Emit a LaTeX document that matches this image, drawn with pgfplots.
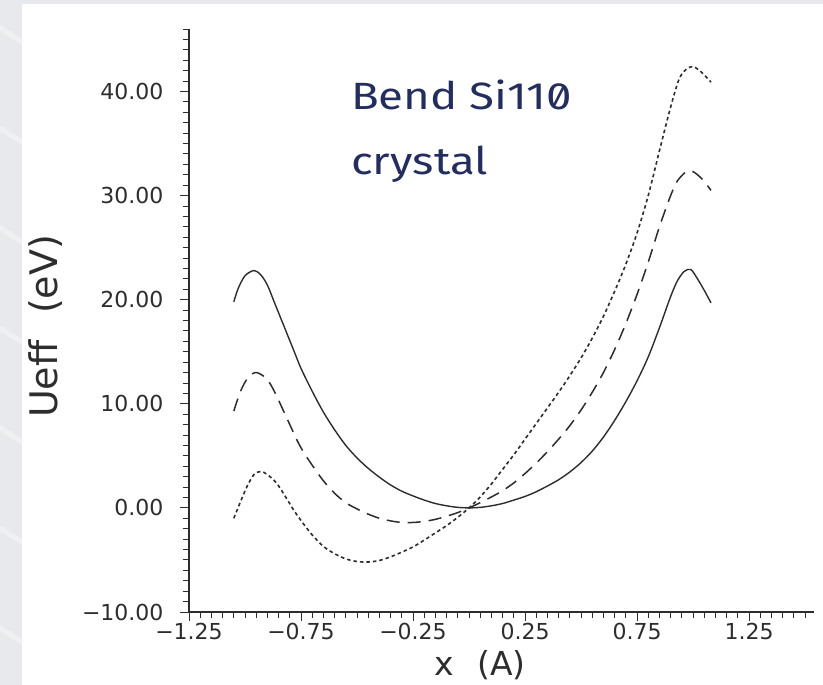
\documentclass[border=0pt]{standalone}
\usepackage{pgfplots}
\pgfplotsset{compat=1.18}
\usepackage{fontspec}
\setmainfont{DejaVu Sans}
\newfontfamily\titlefont[Numbers=SlashedZero, FakeStretch=1.2]{Fira Sans}
\definecolor{navy}{RGB}{36,46,94}
\definecolor{bggray}{RGB}{232,233,236}
\definecolor{ink}{RGB}{45,45,45}

\pgfplotstableread{
x y
-1.05 19.8
-1.03 21.1
-1.00 22.3
-0.96 22.8
-0.93 22.4
-0.90 21.4
-0.87 19.8
-0.84 18.2
-0.81 16.6
-0.78 15.0
-0.75 13.4
-0.70 11.2
-0.65 9.2
-0.60 7.5
-0.55 6.0
-0.50 4.8
-0.45 3.8
-0.40 2.95
-0.35 2.2
-0.30 1.6
-0.25 1.15
-0.20 0.75
-0.15 0.42
-0.10 0.2
-0.05 0.05
0.00 0.0
0.05 0.05
0.10 0.2
0.15 0.42
0.20 0.75
0.25 1.1
0.30 1.55
0.35 2.1
0.40 2.7
0.45 3.45
0.50 4.35
0.55 5.45
0.60 6.8
0.65 8.4
0.70 10.2
0.75 12.2
0.80 14.5
0.85 17.3
0.90 20.3
0.93 21.8
0.96 22.7
0.99 22.9
1.02 22.0
1.05 20.9
1.08 19.7
}\solid

\pgfplotstableread{
x y
-1.05 9.3
-1.02 11.2
-0.99 12.4
-0.955 13.0
-0.92 12.7
-0.89 12.0
-0.86 10.8
-0.83 9.4
-0.80 8.0
-0.77 6.6
-0.74 5.4
-0.70 4.1
-0.65 2.6
-0.60 1.4
-0.55 0.5
-0.50 -0.1
-0.45 -0.6
-0.40 -1.0
-0.35 -1.25
-0.30 -1.4
-0.25 -1.4
-0.20 -1.3
-0.15 -1.1
-0.10 -0.8
-0.05 -0.45
0.00 0.0
0.05 0.5
0.10 1.05
0.15 1.65
0.20 2.4
0.25 3.3
0.30 4.3
0.35 5.4
0.40 6.6
0.45 7.9
0.50 9.4
0.55 11.1
0.60 13.0
0.65 15.2
0.70 17.7
0.75 20.5
0.80 23.6
0.85 27.0
0.90 30.0
0.93 31.4
0.97 32.3
1.00 32.3
1.04 31.6
1.08 30.5
}\dashedd

\pgfplotstableread{
x y
-1.05 -1.0
-1.02 0.6
-0.99 2.1
-0.96 3.2
-0.93 3.5
-0.90 3.2
-0.86 2.4
-0.82 1.1
-0.78 -0.3
-0.74 -1.5
-0.70 -2.6
-0.65 -3.7
-0.60 -4.4
-0.55 -4.9
-0.50 -5.15
-0.45 -5.2
-0.40 -5.05
-0.35 -4.7
-0.30 -4.25
-0.25 -3.75
-0.20 -3.1
-0.15 -2.4
-0.10 -1.7
-0.05 -0.9
0.00 0.0
0.05 1.05
0.10 2.3
0.15 3.7
0.20 5.1
0.25 6.6
0.30 8.1
0.35 9.6
0.40 11.1
0.45 12.7
0.50 14.4
0.55 16.3
0.60 18.4
0.65 20.8
0.70 23.4
0.75 26.4
0.80 30.0
0.85 34.3
0.90 38.5
0.94 41.3
0.98 42.3
1.01 42.3
1.04 41.8
1.08 40.9
}\dotted

\begin{document}
\begin{tikzpicture}[x=1pt,y=1pt]
\useasboundingbox (0,0) rectangle (823,685);
\fill[bggray] (0,0) rectangle (823,685);
\begin{scope}
\clip (0,0) rectangle (22,685);
\foreach \y in {60,160,...,760} { \draw[white, opacity=0.35, line width=5pt] (-5,\y) -- (40,\y-28); }
\end{scope}
\fill[white] (22,0) rectangle (823,681);
\begin{axis}[
  at={(189pt,73pt)}, anchor=south west,
  scale only axis, width=625pt, height=583pt,
  xmin=-1.25, xmax=1.54, ymin=-10, ymax=46,
  axis x line*=bottom, axis y line*=left,
  axis line style={ink, line width=1.1pt, -},
  tick align=outside,
  major tick length=9pt, minor tick length=6pt,
  every tick/.style={ink, line width=0.9pt},
  xtick={-1.25,-0.75,-0.25,0.25,0.75,1.25},
  xticklabels={−1.25,−0.75,−0.25,0.25,0.75,1.25},
  minor xtick={-1.25,-1.2,...,1.52},
  ytick={-10,0,10,20,30,40},
  yticklabels={−10.00,0.00,10.00,20.00,30.00,40.00},
  minor ytick={-10,-9,...,46},
  ticklabel style={font=\fontsize{22}{24}\selectfont, text=ink},
  yticklabel style={xshift=-13pt},
  xticklabel style={yshift=1pt},
  xlabel={x\hspace{0.7em}(A)}, ylabel={Ueff\hspace{0.7em}(eV)},
  label style={text=ink},
  xlabel style={font=\fontsize{33}{36}\selectfont, at={(axis description cs:0.466,-0.091)}, anchor=center},
  ylabel style={font=\fontsize{38}{42}\selectfont, at={(axis description cs:-0.23,0.49)}, anchor=center},
  clip=false,
]
\addplot[ink, line width=1.4pt, smooth] table[x=x,y=y] {\solid};
\addplot[ink, line width=1.5pt, smooth, dash pattern=on 13pt off 8pt] table[x=x,y=y] {\dashedd};
\addplot[ink, line width=1.6pt, smooth, dash pattern=on 3.5pt off 3pt] table[x=x,y=y] {\dotted};
\end{axis}
\node[anchor=base west, inner sep=0, text=navy, font=\titlefont\fontsize{38}{42}\selectfont] at (351,575) {Bend Si110};
\node[anchor=base west, inner sep=0, text=navy, font=\titlefont\fontsize{38}{42}\selectfont] at (351,510) {crystal};
\end{tikzpicture}
\end{document}
